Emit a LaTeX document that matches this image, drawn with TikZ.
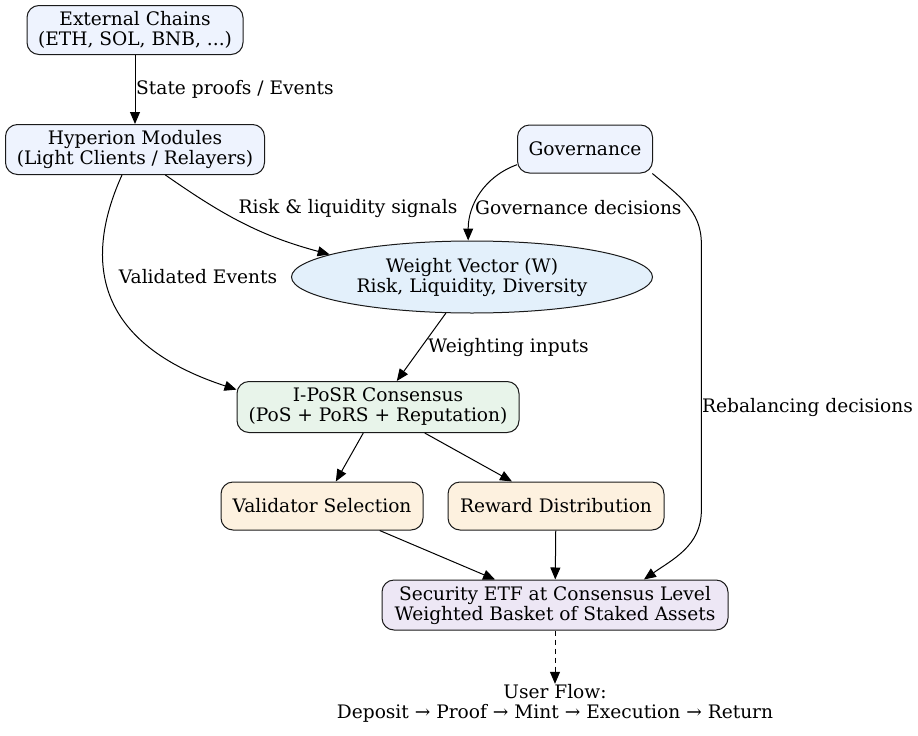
\documentclass[tikz,border=0pt]{standalone}
\usepackage{fontspec}
\setmainfont{DejaVu Serif}
\definecolor{srcblue}{HTML}{EEF3FE}
\definecolor{wvblue}{HTML}{E3F0FB}
\definecolor{consgreen}{HTML}{E8F4EA}
\definecolor{outorange}{HTML}{FDF1DF}
\definecolor{etfpurple}{HTML}{EDE7F5}
\definecolor{edgegray}{HTML}{1A1A1A}
\usetikzlibrary{arrows.meta, shapes.geometric, positioning}

\begin{document}
\begin{tikzpicture}[x=1pt, y=1pt,
    every node/.style={font=\fontsize{18.6}{20}\selectfont},
    box/.style={rectangle, draw=edgegray, line width=1pt,
                rounded corners=12pt, align=center, inner sep=0pt},
    src/.style={box, fill=srcblue},
    cons/.style={box, fill=consgreen},
    outc/.style={box, fill=outorange},
    etf/.style={box, fill=etfpurple},
    wvec/.style={ellipse, draw=edgegray, line width=1pt, fill=wvblue,
                 align=center, inner sep=0pt,
                 minimum width=361pt, minimum height=72pt},
    lbl/.style={inner sep=0pt, align=left},
    arr/.style={-{Triangle[length=12pt, width=10pt]}, line width=1pt,
                draw=black}
  ]
  \useasboundingbox (0,0) rectangle (918,-736);

  \node[src, minimum width=216pt, minimum height=49pt] (ext) at (135,-30)
    {External Chains\\(ETH, SOL, BNB, ...)};
  \node[src, minimum width=259pt, minimum height=50pt, below=69pt of ext] (hyp)
    {Hyperion Modules\\(Light Clients / Relayers)};
  \node[src, minimum width=135pt, minimum height=48pt] (gov) at (585,-149)
    {Governance};
  \node[wvec] (wv) at (472,-277) {Weight Vector (W)\\Risk, Liquidity, Diversity};
  \node[cons, minimum width=282pt, minimum height=51pt] (ipos) at (378,-407)
    {I-PoSR Consensus\\(PoS + PoRS + Reputation)};
  \node[outc, minimum width=202pt, minimum height=48pt] (vs) at (322,-506)
    {Validator Selection};
  \node[outc, minimum width=216pt, minimum height=48pt, right=24pt of vs] (rd)
    {Reward Distribution};
  \node[etf, minimum width=346pt, minimum height=50pt] (sec) at (555,-605)
    {Security ETF at Consensus Level\\Weighted Basket of Staked Assets};
  \node[lbl, align=center] (uf) at (555,-703)
    {User Flow:\\Deposit → Proof → Mint → Execution → Return};

  \draw[arr] (ext) -- (hyp);
  \draw[arr] (hyp.-40) to[out=-35, in=165] (wv.171);
  \draw[arr] (hyp.-117) .. controls (88,-250) and (85,-340) .. (ipos.173);
  \draw[arr] (gov.193) to[out=200, in=90] (wv.96);
  \draw[arr] (gov.-20) to[out=-40, in=90] ++(49,-70) -- ++(0,-267)
    to[out=-90, in=35] (sec.16);
  \draw[arr] (wv) -- (ipos);
  \draw[arr] (ipos) -- (vs);
  \draw[arr] (ipos) -- (rd);
  \draw[arr] (vs) -- (sec);
  \draw[arr] (rd) -- (sec);
  \draw[arr, dash pattern=on 5pt off 4pt] (sec) -- (uf);

  % edge labels
  \node[lbl, anchor=west] (lstate) at (136,-89) {State proofs / Events};
  \node[lbl] (lrisk) at (348,-208) {Risk \& liquidity signals};
  \node[lbl] (lvalid) at (198,-277) {Validated Events};
  \node[lbl, anchor=west] (lgov) at (475,-208) {Governance decisions};
  \node[lbl, anchor=west] (lrebal) at (702,-407) {Rebalancing decisions};
  \node[lbl, anchor=west] (lweight) at (428,-347) {Weighting inputs};
\end{tikzpicture}
\end{document}
